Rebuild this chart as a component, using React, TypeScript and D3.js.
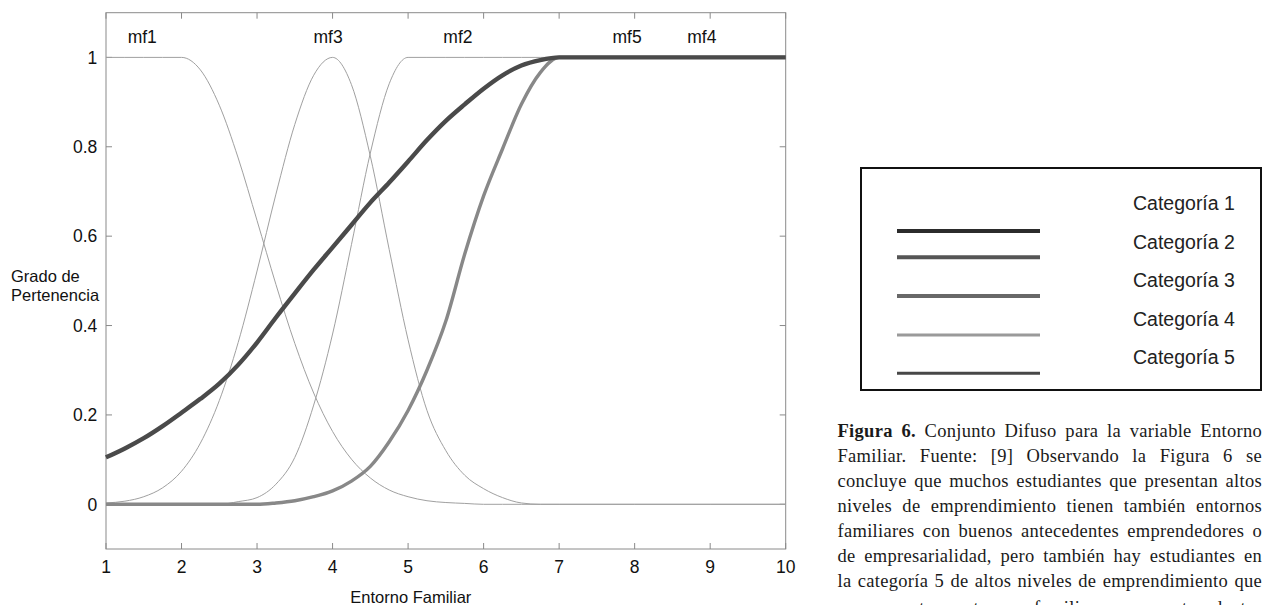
import React, { useEffect, useRef } from 'react';
import * as d3 from 'd3';

// shared sampling grid of the x axis (Entorno Familiar)
const xGrid = [1, 1.25, 1.5, 1.75, 2, 2.25, 2.5, 2.75, 3, 3.25, 3.5, 3.75, 4, 4.25, 4.5, 4.75, 5, 5.25, 5.5, 5.75, 6, 6.25, 6.5, 6.75, 7, 8, 9, 10];

// membership functions (thin lines)
const mf1 = [1, 1, 1, 1, 1, 0.972, 0.893, 0.775, 0.635, 0.492, 0.36, 0.249, 0.163, 0.101, 0.059, 0.032, 0.017, 0.008, 0.004, 0.002, 0, 0, 0, 0, 0, 0, 0, 0];
const mf2 = [0, 0, 0, 0, 0, 0, 0, 0.006, 0.015, 0.045, 0.105, 0.222, 0.381, 0.581, 0.786, 0.941, 1, 1, 1, 1, 1, 1, 1, 1, 1, 1, 1, 1];
const mf3 = [0.003, 0.007, 0.017, 0.037, 0.074, 0.137, 0.232, 0.362, 0.522, 0.694, 0.85, 0.96, 1, 0.939, 0.779, 0.57, 0.368, 0.21, 0.12, 0.065, 0.035, 0.015, 0.003, 0, 0, 0, 0, 0];

// thick category curves
const catDark = [0.105, 0.125, 0.148, 0.175, 0.205, 0.236, 0.27, 0.312, 0.362, 0.418, 0.472, 0.525, 0.575, 0.625, 0.675, 0.72, 0.767, 0.815, 0.858, 0.895, 0.93, 0.96, 0.982, 0.994, 1, 1, 1, 1];
const catGray = [0, 0, 0, 0, 0, 0, 0, 0, 0, 0.003, 0.008, 0.017, 0.03, 0.052, 0.085, 0.14, 0.21, 0.3, 0.41, 0.56, 0.69, 0.795, 0.895, 0.966, 1, 1, 1, 1];

const mfLabels = ['mf1', 'mf3', 'mf2', 'mf5', 'mf4'];
const mfLabelX = [1.48, 3.94, 5.66, 7.9, 8.89];

const xTicks = [1, 2, 3, 4, 5, 6, 7, 8, 9, 10];
const yTicks = [0, 0.2, 0.4, 0.6, 0.8, 1];

const legendLabels = ['Categoría 1', 'Categoría 2', 'Categoría 3', 'Categoría 4', 'Categoría 5'];

const captionLines = [
    'Conjunto Difuso para la variable Entorno',
    'Familiar. Fuente: [9] Observando la Figura 6 se',
    'concluye que muchos estudiantes que presentan altos',
    'niveles de emprendimiento tienen también entornos',
    'familiares con buenos antecedentes emprendedores o',
    'de empresarialidad, pero también hay estudiantes en',
    'la categoría 5 de altos niveles de emprendimiento que',
    'no presentan entornos familiares con antecedentes',
];

// legend styling (swatches are not tied to the curves in the source figure)
const legendStyle = [
    { color: '#2b2b2b', width: 4.2, y: 231 },
    { color: '#555', width: 4, y: 257.3 },
    { color: '#686868', width: 4, y: 296 },
    { color: '#9a9a9a', width: 3, y: 335 },
    { color: '#474747', width: 3, y: 373.3 },
];
const legendTextY = [203.3, 241.7, 280, 319.3, 356.7];

const sans = '"Liberation Sans", Arial, sans-serif';
const serif = '"Liberation Serif", "Times New Roman", serif';

export default function App() {
    const ref = useRef<SVGSVGElement>(null);

    useEffect(() => {
        const svg = d3.select(ref.current);
        svg.selectAll('*').remove();

        const x = d3.scaleLinear().domain([1, 10]).range([106, 785.7]);
        const y = d3.scaleLinear().domain([-0.1, 1.1]).range([549, 12.7]);
        const tick = 6;

        const plot = svg.append('g');

        // frame
        plot.append('rect')
            .attr('x', x(1)).attr('y', y(1.1))
            .attr('width', x(10) - x(1)).attr('height', y(-0.1) - y(1.1))
            .attr('fill', 'none').attr('stroke', '#8a8a8a').attr('stroke-width', 1);

        // inward ticks on all four sides
        const gTicks = plot.append('g').attr('stroke', '#8a8a8a').attr('stroke-width', 1);
        xTicks.forEach(t => {
            gTicks.append('line').attr('x1', x(t)).attr('x2', x(t)).attr('y1', y(-0.1)).attr('y2', y(-0.1) - tick);
            gTicks.append('line').attr('x1', x(t)).attr('x2', x(t)).attr('y1', y(1.1)).attr('y2', y(1.1) + tick);
        });
        yTicks.forEach(t => {
            gTicks.append('line').attr('x1', x(1)).attr('x2', x(1) + tick).attr('y1', y(t)).attr('y2', y(t));
            gTicks.append('line').attr('x1', x(10)).attr('x2', x(10) - tick).attr('y1', y(t)).attr('y2', y(t));
        });

        // tick labels
        plot.append('g').selectAll('text').data(xTicks).join('text')
            .attr('x', d => x(d)).attr('y', 573.3)
            .attr('text-anchor', 'middle')
            .style('font', `17.5px ${sans}`).attr('fill', '#111')
            .text(d => d);
        plot.append('g').selectAll('text').data(yTicks).join('text')
            .attr('x', 97.3).attr('y', d => y(d)).attr('dy', '0.36em')
            .attr('text-anchor', 'end')
            .style('font', `17.5px ${sans}`).attr('fill', '#111')
            .text(d => d);

        // axis titles
        plot.append('text').attr('x', 11).attr('y', 281.7)
            .style('font', `16.5px ${sans}`).attr('fill', '#111').text('Grado de');
        plot.append('text').attr('x', 11).attr('y', 300.7)
            .style('font', `16.5px ${sans}`).attr('fill', '#111').text('Pertenencia');
        plot.append('text').attr('x', 410.8).attr('y', 602.5).attr('text-anchor', 'middle')
            .style('font', `16.5px ${sans}`).attr('fill', '#111').text('Entorno Familiar');

        // mf labels
        plot.append('g').selectAll('text').data(mfLabels).join('text')
            .attr('x', (d, i) => x(mfLabelX[i])).attr('y', 42.7)
            .attr('text-anchor', 'middle')
            .style('font', `17.5px ${sans}`).attr('fill', '#111')
            .text(d => d);

        const line = d3.line<number>()
            .x((d, i) => x(xGrid[i]))
            .y(d => y(d))
            .curve(d3.curveMonotoneX);

        const gLines = plot.append('g').attr('fill', 'none').attr('stroke-linejoin', 'round');
        [mf1, mf2, mf3].forEach(s => {
            gLines.append('path').attr('d', line(s)).attr('stroke', '#a0a0a0').attr('stroke-width', 1);
        });
        gLines.append('path').attr('d', line(catGray)).attr('stroke', '#888').attr('stroke-width', 3.4);
        gLines.append('path').attr('d', line(catDark)).attr('stroke', '#4a4a4a').attr('stroke-width', 4.4);

        // legend box
        const legend = svg.append('g');
        legend.append('rect').attr('x', 861).attr('y', 168).attr('width', 400).attr('height', 222)
            .attr('fill', 'none').attr('stroke', '#111').attr('stroke-width', 2);
        legend.selectAll('line').data(legendStyle).join('line')
            .attr('x1', 897).attr('x2', 1040)
            .attr('y1', d => d.y).attr('y2', d => d.y)
            .attr('stroke', d => d.color).attr('stroke-width', d => d.width);
        legend.selectAll('text').data(legendLabels).join('text')
            .attr('x', 1133).attr('y', (d, i) => legendTextY[i]).attr('dy', '0.36em')
            .style('font', `19.5px ${sans}`).attr('fill', '#222')
            .text(d => d);

        // caption, justified between left and right edges
        const left = 837.5;
        const right = 1262;
        const caption = svg.append('g')
            .style('font', `18.5px ${serif}`)
            .style('letter-spacing', '0.3px')
            .attr('fill', '#1a1a1a');
        captionLines.forEach((txt, i) => {
            const t = caption.append('text').attr('x', left).attr('y', 437 + 25 * i + (i === 7 ? 2 : 0));
            if (i === 0) {
                t.append('tspan').attr('font-weight', 'bold').text('Figura 6.');
                t.append('tspan').text(' ' + txt);
            } else {
                t.text(txt);
            }
            const node = t.node() as SVGTextElement;
            const len = node.getComputedTextLength();
            const full = i === 0 ? 'Figura 6. ' + txt : txt;
            const gaps = full.split(' ').length - 1;
            if (gaps > 0) t.attr('word-spacing', (right - left - len) / gaps);
        });
    }, []);

    return (
        <svg ref={ref} width={1265} height={605}
            style={{ position: 'absolute', left: 0, top: 0, background: '#fff' }} />
    );
}
